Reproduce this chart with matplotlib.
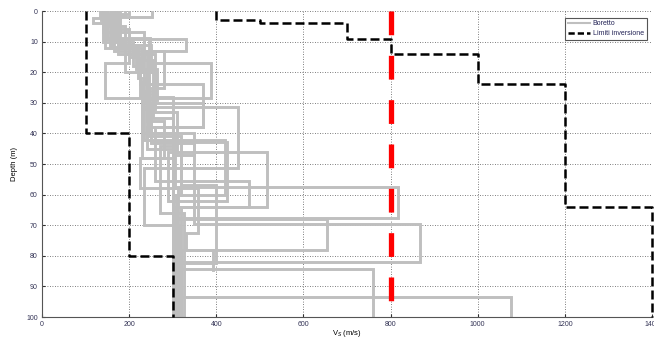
import matplotlib
matplotlib.use("Agg")
import matplotlib.pyplot as plt
from matplotlib.lines import Line2D

plt.rcParams['font.family'] = ['Liberation Sans', 'DejaVu Sans']

# Inverted Vs profiles (Boretto): velocities per layer and layer bottom depths
profile_vs = [
    [252, 150, 175, 240, 255, 300, 517, 305],
    [133, 165, 330, 235, 250, 424, 300],
    [180, 118, 160, 200, 145, 230, 450, 233, 315],
    [200, 150, 248, 387, 240, 370, 260, 475, 320],
    [150, 170, 210, 225, 370, 240, 300, 817, 310],
    [160, 140, 190, 260, 230, 300, 654, 320],
    [145, 175, 220, 245, 250, 350, 868, 302],
    [170, 155, 230, 240, 280, 225, 358, 330, 392],
    [140, 190, 260, 235, 320, 300, 759],
    [155, 180, 250, 240, 310, 290, 310, 1076],
    [165, 200, 225, 300, 270, 325],
    [135, 150, 245, 230, 350, 300, 313],
    [175, 145, 215, 265, 240, 420, 308],
    [150, 165, 280, 245, 320, 400, 317],
    [190, 140, 235, 255, 245, 305, 312],
]
profile_bottoms = [
    [2, 9, 14, 24, 35, 46, 64],
    [2, 9, 13, 30, 42.7, 62],
    [2.2, 3.9, 11.7, 17, 28.5, 31.5, 51.4, 70],
    [1, 8.7, 17, 28.5, 30, 38, 55.4, 64],
    [3, 10, 18, 24, 38, 45, 57.6, 67.7],
    [4, 10, 20, 32, 48, 68, 78],
    [3, 11, 22, 35, 43, 69.6, 82],
    [2, 12, 20, 36, 48, 58, 72.6, 78, 84.6],
    [5, 14, 26, 42, 60, 84.4],
    [2, 11, 20, 33, 46, 62, 93.4],
    [6, 15, 28, 44, 66],
    [3, 9, 23, 40, 47, 73],
    [2, 12, 19, 29, 42, 60],
    [4, 13, 25, 41, 57, 82.4],
    [1.5, 7, 16, 27, 40, 58],
]

# Inversion limits (lower and upper bound)
low_vs = [100, 200, 300]
low_bottoms = [40, 80]
up_vs = [400, 500, 700, 800, 1000, 1200, 1400]
up_bottoms = [3, 4, 9, 14, 24, 64]

max_depth = 100
ref_vs = 800


def step(vs, bottoms):
    xs, ys = [], []
    tops = [0] + list(bottoms)
    bots = list(bottoms) + [max_depth]
    for v, t, b in zip(vs, tops, bots):
        xs += [v, v]
        ys += [t, b]
    return xs, ys


fig = plt.figure(figsize=(6.54, 3.40), dpi=100)
ax = fig.add_axes([0.0642, 0.0676, 0.9327, 0.90])

gray = (0.75, 0.75, 0.75)
for vs, bt in zip(profile_vs, profile_bottoms):
    x, y = step(vs, bt)
    ax.plot(x, y, color=gray, lw=2.1, solid_joinstyle='miter', zorder=2)

for vs, bt in ((low_vs, low_bottoms), (up_vs, up_bottoms)):
    x, y = step(vs, bt)
    ax.plot(x, y, color='black', lw=1.8, linestyle=(0, (3.6, 1.6)), zorder=3,
            clip_on=False)

ax.plot([ref_vs, ref_vs], [0, max_depth], color='red', lw=3.8,
        linestyle=(0, (4.5, 3.9)), zorder=4, solid_capstyle='butt')

ax.set_xlim(0, 1400)
ax.set_ylim(100, 0)
ax.set_xticks(range(0, 1401, 200))
ax.set_yticks(range(0, 101, 10))
ax.grid(True, color='#555555', linestyle=(0, (1, 2)), lw=0.6)
ax.set_axisbelow(True)
for s in ('top', 'right'):
    ax.spines[s].set_visible(False)
for s in ('left', 'bottom'):
    ax.spines[s].set_color('#555555')
    ax.spines[s].set_linewidth(0.8)
ax.tick_params(labelsize=5, colors='#333333', length=2, direction='in', pad=3)
for lab in ax.get_xticklabels() + ax.get_yticklabels():
    lab.set_color('#333355')
ax.set_xlabel('V$_S$ (m/s)', fontsize=5.5, labelpad=0)
ax.set_ylabel('Depth (m)', fontsize=5.5, labelpad=6)

handles = [Line2D([], [], color=gray, lw=1.5),
           Line2D([], [], color='black', lw=1.8, linestyle=(0, (2.5, 1.2)))]
leg = ax.legend(handles, ['Boretto', 'Limiti inversione'], loc='upper right',
                bbox_to_anchor=(0.997, 0.99), fontsize=5, fancybox=False,
                framealpha=1, edgecolor='#555555', handlelength=3.2,
                borderpad=0.4, labelspacing=0.4, handletextpad=0.4)
leg.get_frame().set_linewidth(0.8)
for t in leg.get_texts():
    t.set_color('#222255')

fig.savefig('out.png', dpi=100)
